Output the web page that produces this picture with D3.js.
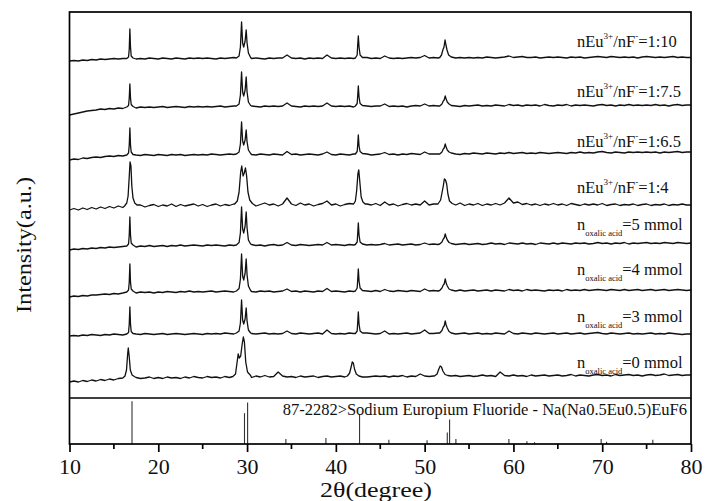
<!DOCTYPE html>
<html>
<head>
<meta charset="utf-8">
<script src="https://cdn.jsdelivr.net/npm/d3@7"></script>
<style>
  html, body { margin: 0; padding: 0; background: #fff; }
  svg text { font-family: "Liberation Serif", "Times New Roman", Times, "DejaVu Serif", serif; fill: #111; }
</style>
</head>
<body>
<svg id="chart" width="706" height="501"></svg>
<script>
// ─── XRD patterns, stacked ───
// background heights sampled every 0.5 deg from 10 to 80 (141 values), peaks given as point groups
const bgStart = 10, bgStep = 0.5;
const FONT = '"Liberation Serif", "Times New Roman", Times, "DejaVu Serif", serif';

const traceNames = ['1:10', '1:7.5', '1:6.5', '1:4', '5 mmol', '4 mmol', '3 mmol', '0 mmol'];
const traceOffsets = [339, 291, 243, 192, 152, 106, 64, 20];

const bg1 = [
  -2,-1.5,-2,-1,-1.5,-0.5,-1,0,-0.5,0,
  0.5,0,0.5,1,0.5,0,0.5,0,1,0.5,
  0,1,0.5,0,1,0.5,0,1,0.5,1,
  0.5,1,0.5,0,1,0.5,1,1.5,1,1,
  1,0.5,1,0.5,0,1,0.5,1,1,4,
  1,0.5,1,0,1,0.5,1,0.5,4,1,
  0.5,1,0.5,1,0.5,1,1,1.5,0.5,1,
  0.5,3,1,0.5,1,0.5,1,1.5,1,1.5,
  3.5,1,1.5,1,1,1,1.5,1,1.5,1,
  1.5,1,1.5,1,2,1.5,1,1.5,2,3,
  1.5,2,2.5,1.5,1.5,2,1,1.5,2,1.5,
  2,1.5,1,2,1.5,2,1,1.5,2,2.5,
  2,1.5,2.5,2,1.5,2,1.5,2,1,2,
  2.5,2,1.5,2,1.5,2,2.5,1.5,2,1.5,
  1.5];
const bg2 = [
  -8,-7,-6,-5,-4,-3.5,-3,-2,-2.5,-1.5,
  -2,-1,-1.5,-1,-0.5,-1,0,-0.5,0,-0.5,
  0,0.5,-0.5,0,0.5,0,-0.5,0.5,0,0.5,
  0,0.5,0,0.5,1,0,0.5,1,0.5,1,
  0.5,1,0.5,0,1,0.5,1,0.5,1,4,
  1,0.5,0,1,0.5,1,0.5,1,4,1,
  0.5,1,0.5,1,0,1,1,1,0.5,1,
  1,3,0.5,1,0.5,1,0,1,1.5,1,
  3,1,1.5,1,1,1,1.5,1,0.5,1.5,
  1,1.5,2,1,1.5,1,2,1.5,1,2.5,
  1.5,2,1,2,1.5,2,1,2.5,1.5,1,
  2,1.5,2.5,1,2,1.5,2,1.5,1,2,
  2.5,1.5,2,1,2,1.5,2.5,1.5,2,1.5,
  2,1.5,2.5,1.5,2,1,2,2.5,1.5,2,
  2];
const bg3 = [
  -5,-4,-4.5,-3,-3.5,-2.5,-2,-2.5,-1.5,-1,
  -1.5,-0.5,-1,0,-0.5,0,-0.5,0.5,0,-0.5,
  0.5,0,-0.5,0.5,0,0.5,-0.5,0,0.5,0,
  0.5,0,1,0.5,0,0.5,1,0.5,1,1,
  1,0.5,0,1,0.5,0,1,0.5,0,3.5,
  0.5,1,0,0.5,1,0.5,0,1,3,0.5,
  0,1,0.5,0,1,0.5,0.5,1,0,0.5,
  1,2.5,0.5,1,0,1,0.5,1.5,1,0.5,
  3,1,1,1,1,1,1.5,1,0.5,1.5,
  1,2,1.5,1,2,1.5,1,2,1.5,2.5,
  1.5,2,2.5,1.5,2,1.5,2.5,2,1.5,2,
  2.5,2,1.5,2.5,2,3,2,2.5,2,3,
  3.5,2.5,2,3,2.5,2,3,2.5,3,2.5,
  3,2.5,3,2,3,2.5,3,3.5,2.5,3,
  3];
const bg4 = [
  -4,-2.5,-4,-2,-3.5,-1.5,-3,-1,-2.5,-0.5,
  -2,0,-1.5,0,1.5,-0.5,1,-1,0.5,1.5,
  -0.5,1,0,2,-0.5,1.5,0,1,2,0,
  1.5,-0.5,1,2,0,1.5,0.5,2,1,2,
  2,1,0,1.5,3,1,2,0,2,8,
  2,0.5,3,1,2,0,1.5,2.5,5,1,
  2,0,1.5,2.5,1,2,2,2,1,2.5,
  0.5,4,1,2,0,1.5,2.5,1,2,1,
  5,1,2,1,2,2,2,1,3,0.5,
  2,1,2.5,0.5,2,1,2.5,1,3,8,
  3,4,1.5,2.5,1,2,0.5,2,1,2.5,
  1,2,0.5,2.5,1.5,0.5,2,1,2,1,
  2.5,0.5,1.5,2,0.5,1.5,1,2,0.5,1.5,
  2,0.5,1.5,1,2,0.5,1.5,1,2,1,
  1];
const bg5 = [
  -4,-3,-3.5,-2.5,-3,-2,-2.5,-1.5,-2,-1,
  -1.5,-1,-0.5,-1,0,-1,0,-0.5,0.5,-0.5,
  0,0.5,-0.5,0.5,0,1,0,0.5,1,0.5,
  0,1,0.5,1,0.5,0,1,0.5,1.5,1,
  1,1.5,0.5,1,0,1,1.5,0.5,1,3.5,
  1,0.5,1.5,1,0.5,1,1.5,1,3.5,1,
  1.5,1,0.5,1.5,1,1,1,1,1.5,1,
  1.5,2.5,1,1.5,2,1,1.5,2,1,1.5,
  3,1.5,2,1.5,2,2,2,1.5,2,2.5,
  1.5,2,2.5,1.5,2,3,2,2.5,1.5,3,
  2.5,2,3,2,2.5,1.5,3,2.5,2,3,
  2,3,2.5,2,3,2.5,3,2,2.5,3.5,
  2.5,3,2,3,2.5,3.5,2,3,2.5,3,
  3.5,2.5,3,2.5,3.5,3,2.5,3.5,3,2.5,
  3];
const bg6 = [
  -5,-4,-4.5,-3.5,-4,-3,-3,-2.5,-2,-2.5,
  -1.5,-2,-1,-1.5,-0.5,-1,0,-0.5,0,-1,
  0,-0.5,0.5,0,-0.5,0.5,0,1,0,0.5,
  0,0.5,1,0,0.5,1,0.5,0,1,1,
  1,0.5,0,1,0.5,1,0,0.5,1,3,
  0.5,1,0,1,0.5,0,1,0.5,3.5,0.5,
  1,0.5,0,1,0.5,1,1,1,0.5,1.5,
  0.5,2.5,1,0.5,1.5,1,0.5,1.5,1,0.5,
  3,1,1.5,1,1,1,1.5,1,2,1,
  1.5,2,1,1.5,2,1,2,1.5,1,2.5,
  1.5,2,1,2.5,1.5,2,1.5,1,2,1.5,
  2,1,2.5,1.5,2,1.5,2.5,1.5,2,2.5,
  2,1.5,2.5,2,1.5,2.5,1.5,2,2.5,1.5,
  2,2.5,1.5,2,2.5,1.5,2,2.5,2,1.5,
  2];
const bg7 = [
  -2,-1.5,-2,-1,-1.5,-0.5,-1,-1.5,-0.5,-1,
  0,-0.5,-1,0,-0.5,0,-0.5,0.5,0,-0.5,
  0,0.5,-0.5,0,0.5,0,-0.5,0,0.5,0,
  -0.5,0.5,0,0.5,0,1,0.5,0,1,1,
  1,0.5,0,0.5,1,0,0.5,0,0.5,3,
  0.5,0,1,0.5,0,0.5,1,0,4,0.5,
  0,0.5,0,1,0.5,0,1,1,0.5,0,
  0.5,3,0,0.5,0,0.5,1,0,0.5,1,
  4,0.5,0.5,1,1,1,0.5,0,0.5,1,
  0,0.5,1,0,0.5,0,1,0.5,0,3,
  0.5,0,1,0.5,0,1,0.5,0,0.5,1,
  0,0.5,1,0,0.5,1,0,0.5,1,1.5,
  0.5,0,1,0.5,0,0.5,1,0,0.5,0,
  0.5,1,0,0.5,0,1,0.5,0,-0.5,0,
  0];
const bg8 = [
  -4,-3,-4,-2.5,-3.5,-2,-3,-1.5,-2.5,-1,
  -2,-0.5,-1.5,0,-1,0.5,-0.5,0,1,-0.5,
  0.5,-0.5,1,0,0.5,-0.5,1,0,1.5,0.5,
  0,1.5,0.5,1,0,1.5,0.5,1,2,1,
  1.5,0.5,2,1,2.5,1,1.5,6,2,1,
  1.5,0.5,2,1,1.5,2,0.5,1.5,2,1,
  1.5,2,1,2,1.5,1,1,1,1.5,2,
  1.5,2,1,2,1.5,2.5,1,2,1.5,4,
  2,1.5,2,2,2,2,2,2.5,1.5,2,
  2.5,1.5,2,3,2,2.5,1.5,6,2.5,2,
  3,2,2.5,1.5,3,2,2.5,3,2,2.5,
  3,2,2.5,3.5,2,3,2.5,2,3,3.5,
  2.5,3,2,3.5,2.5,3,3.5,2.5,3,2,
  3,3.5,2.5,3,4,2.5,3,3.5,2.5,3,
  3];

const peaks1 = [
  [[16.45,0.5],[16.65,2],[16.73,10],[16.8,30],[16.87,12],[16.95,3],[17.15,1]],
  [[28.8,1],[29.1,3],[29.25,12],[29.38,37],[29.5,16],[29.62,12],[29.78,18],[29.9,29],[30.0,16],[30.15,6],[30.4,1.5]],
  [[42.2,1],[42.4,4],[42.46,14],[42.53,23],[42.61,12],[42.73,4],[43.0,1.5]],
  [[51.7,1.5],[51.9,4],[52.05,9],[52.18,12],[52.3,19],[52.4,14],[52.52,9],[52.7,4],[53.0,2]]
];
const peaks2 = [
  [[16.45,0],[16.65,1.5],[16.73,9],[16.8,23],[16.87,9],[16.95,2.5],[17.15,0.5]],
  [[28.8,1],[29.1,3],[29.25,12],[29.38,35],[29.5,15],[29.62,11],[29.78,17],[29.9,30],[30.0,15],[30.15,5],[30.4,1.5]],
  [[42.2,1],[42.4,3.5],[42.46,11],[42.53,21],[42.61,10],[42.73,3.5],[43.0,1.5]],
  [[51.7,1],[51.95,3],[52.1,6],[52.2,7],[52.32,11],[52.42,8],[52.55,5],[52.75,3],[53.0,1.5]]
];
const peaks3 = [
  [[16.45,0],[16.65,2],[16.73,10],[16.8,27],[16.87,10],[16.95,3],[17.15,0.5]],
  [[28.8,1],[29.1,3],[29.25,11],[29.38,33],[29.5,14],[29.62,10],[29.78,15],[29.9,25],[30.0,13],[30.15,5],[30.4,1.5]],
  [[42.2,1],[42.4,3.5],[42.46,10],[42.53,20],[42.61,9],[42.73,3.5],[43.0,1.5]],
  [[51.7,1],[51.95,3],[52.1,6],[52.2,7],[52.32,11],[52.42,8],[52.55,5],[52.75,3],[53.0,2]]
];
const peaks4 = [
  [[16.2,0],[16.45,3],[16.6,10],[16.72,28],[16.82,44],[16.92,40],[17.02,20],[17.15,8],[17.35,3],[17.6,1]],
  [[28.6,2],[28.9,5],[29.1,14],[29.28,34],[29.4,40],[29.55,30],[29.68,33],[29.82,38],[29.95,30],[30.1,14],[30.3,6],[30.6,2.5]],
  [[42.0,2],[42.2,5],[42.35,16],[42.48,32],[42.58,36],[42.7,24],[42.85,9],[43.05,4],[43.3,2]],
  [[51.5,2],[51.8,6],[51.95,13],[52.1,20],[52.22,27],[52.35,26],[52.48,22],[52.62,12],[52.8,5],[53.1,2.5]]
];
const peaks5 = [
  [[16.45,0],[16.65,2],[16.73,11],[16.8,29],[16.87,11],[16.95,3],[17.15,1]],
  [[28.8,1],[29.1,3.5],[29.25,13],[29.38,39],[29.5,17],[29.62,13],[29.78,20],[29.9,34],[30.0,18],[30.15,6],[30.4,2]],
  [[42.2,1.5],[42.4,4],[42.46,12],[42.53,23],[42.61,11],[42.73,4],[43.0,2]],
  [[51.7,2],[51.95,4],[52.1,7],[52.2,8],[52.32,12],[52.42,9],[52.55,6],[52.75,3.5],[53.0,2.5]]
];
const peaks6 = [
  [[16.45,0],[16.65,2],[16.73,10],[16.8,28],[16.87,10],[16.95,3],[17.15,1]],
  [[28.8,1],[29.1,3.5],[29.25,13],[29.38,38],[29.5,16],[29.62,12],[29.78,19],[29.9,33],[30.0,17],[30.15,6],[30.4,1.5]],
  [[42.2,1],[42.4,4],[42.46,12],[42.53,23],[42.61,11],[42.73,4],[43.0,1.5]],
  [[51.7,1.5],[51.95,4],[52.1,7],[52.2,8],[52.32,13],[52.42,9],[52.55,6],[52.75,3],[53.0,2]]
];
const peaks7 = [
  [[16.45,0],[16.65,1.5],[16.73,10],[16.8,27],[16.87,10],[16.95,2.5],[17.15,0.5]],
  [[28.8,1],[29.1,3],[29.25,11],[29.38,34],[29.5,14],[29.62,10],[29.78,15],[29.9,26],[30.0,13],[30.15,4],[30.4,1]],
  [[42.2,0.5],[42.4,3],[42.46,11],[42.53,22],[42.61,10],[42.73,3],[43.0,1]],
  [[51.7,1],[51.95,3.5],[52.1,7],[52.2,8],[52.32,13],[52.42,9],[52.55,6],[52.75,2.5],[53.0,1]]
];
const peaks8 = [
  [[16.0,0],[16.25,2],[16.42,8],[16.55,24],[16.62,30],[16.72,22],[16.85,8],[17.05,3],[17.3,1.5]],
  [[28.4,1.5],[28.7,4],[28.88,16],[29.0,24],[29.12,20],[29.28,22],[29.45,34],[29.58,41],[29.7,36],[29.85,16],[30.05,6],[30.4,2.5]],
  [[41.3,2],[41.55,5],[41.72,11],[41.85,16],[41.97,15],[42.1,9],[42.3,4],[42.6,2]],
  [[51.1,2],[51.4,4],[51.6,9],[51.75,12],[51.9,11],[52.05,7],[52.3,3.5],[52.6,2.5]]
];

// reference card 87-2282, Na(Na0.5Eu0.5)EuF6
const refPos = [17.04, 29.71, 30.06, 34.37, 38.88, 42.67, 45.97, 50.27, 52.55, 52.81, 53.52, 59.49, 61.52, 62.38, 69.88, 70.49, 75.7];
const refInt = [93, 67, 90, 11, 13, 65, 9, 8, 25, 53, 11, 11, 6, 4, 11, 5, 9];
const refLabel = '87-2282>Sodium Europium Fluoride - Na(Na0.5Eu0.5)EuF6';

const xTicks = [10, 20, 30, 40, 50, 60, 70, 80];
const xMinorTicks = [15, 25, 35, 45, 55, 65, 75];

const bgs = [bg1, bg2, bg3, bg4, bg5, bg6, bg7, bg8];
const peakGroups = [peaks1, peaks2, peaks3, peaks4, peaks5, peaks6, peaks7, peaks8];

// ─── layout ───
const L = 69.5, R = 691, T = 12, MID = 398, B = 444;
const labelY = [47, 97, 147, 193, 230, 275, 322, 368];
const labelX = 577;

const svg = d3.select('#chart');
const x = d3.scaleLinear().domain([10, 80]).range([L, R]);
const y = d3.scaleLinear().domain([0, MID - T]).range([MID, T]);
const yRef = d3.scaleLinear().domain([0, 100]).range([B, MID]);

function buildTrace(bg, groups) {
  let pts = bg.map((v, i) => [bgStart + i * bgStep, v]);
  groups.forEach(g => {
    const lo = g[0][0], hi = g[g.length - 1][0];
    pts = pts.filter(p => p[0] < lo || p[0] > hi).concat(g);
  });
  return pts.sort((a, b) => a[0] - b[0]);
}

const traces = bgs.map((bg, i) => ({ name: traceNames[i], off: traceOffsets[i], pts: buildTrace(bg, peakGroups[i]) }));

const line = d3.line().x(d => x(d[0])).y(d => y(d[1]));

svg.append('g').selectAll('path')
  .data(traces)
  .enter()
  .append('path')
  .attr('d', t => line(t.pts.map(p => [p[0], p[1] + t.off])))
  .attr('fill', 'none')
  .attr('stroke', '#111')
  .attr('stroke-width', 1.3)
  .attr('stroke-linejoin', 'round');

// labels
const lab = svg.append('g').attr('font-size', 16.5);
traces.forEach((t, i) => {
  const tx = lab.append('text').attr('x', labelX).attr('y', labelY[i]);
  if (i < 4) {
    tx.append('tspan').text('nEu');
    tx.append('tspan').attr('font-size', 9).attr('dy', -8).text('3+');
    tx.append('tspan').attr('dy', 8).text('/nF');
    tx.append('tspan').attr('font-size', 9).attr('dy', -8).text('-');
    tx.append('tspan').attr('dy', 8).text('=' + t.name);
  } else {
    tx.append('tspan').text('n');
    tx.append('tspan').attr('font-size', 8.5).attr('dy', 6).text('oxalic acid');
    tx.append('tspan').attr('dy', -6).text('=' + t.name);
  }
});

// reference sticks
svg.append('g').selectAll('line')
  .data(refPos.map((p, i) => ({ p, v: refInt[i] })))
  .enter()
  .append('line')
  .attr('x1', d => x(d.p)).attr('x2', d => x(d.p))
  .attr('y1', yRef(0)).attr('y2', d => yRef(d.v))
  .attr('stroke', '#333')
  .attr('stroke-width', 1.1);

svg.append('text')
  .attr('x', 687).attr('y', 415)
  .attr('text-anchor', 'end')
  .attr('font-size', 16.5)
  .text(refLabel);

// frames
svg.append('rect')
  .attr('x', L).attr('y', T).attr('width', R - L).attr('height', B - T)
  .attr('fill', 'none').attr('stroke', '#000').attr('stroke-width', 1.7);
svg.append('line')
  .attr('x1', L).attr('x2', R).attr('y1', MID).attr('y2', MID)
  .attr('stroke', '#000').attr('stroke-width', 1.7);

// x axis
const ax = svg.append('g').attr('transform', `translate(0,${B})`)
  .call(d3.axisBottom(x).tickValues(xTicks).tickSize(8).tickPadding(6).tickFormat(d3.format('d')));
ax.select('.domain').remove();
ax.selectAll('line').attr('stroke', '#000').attr('stroke-width', 1.7);
ax.selectAll('text').attr('font-size', 22).attr('fill', '#111').style('font-family', FONT);

svg.append('g').selectAll('line')
  .data(xMinorTicks)
  .enter()
  .append('line')
  .attr('x1', d => x(d)).attr('x2', d => x(d))
  .attr('y1', B).attr('y2', B + 5)
  .attr('stroke', '#000').attr('stroke-width', 1.7);

svg.append('text')
  .attr('x', 376).attr('y', 497)
  .attr('text-anchor', 'middle')
  .attr('font-size', 21)
  .attr('textLength', 112)
  .attr('lengthAdjust', 'spacingAndGlyphs')
  .text('2θ(degree)');

svg.append('text')
  .attr('transform', 'translate(31,245) rotate(-90)')
  .attr('text-anchor', 'middle')
  .attr('font-size', 22)
  .attr('textLength', 136)
  .attr('lengthAdjust', 'spacingAndGlyphs')
  .text('Intensity(a.u.)');
</script>
</body>
</html>
